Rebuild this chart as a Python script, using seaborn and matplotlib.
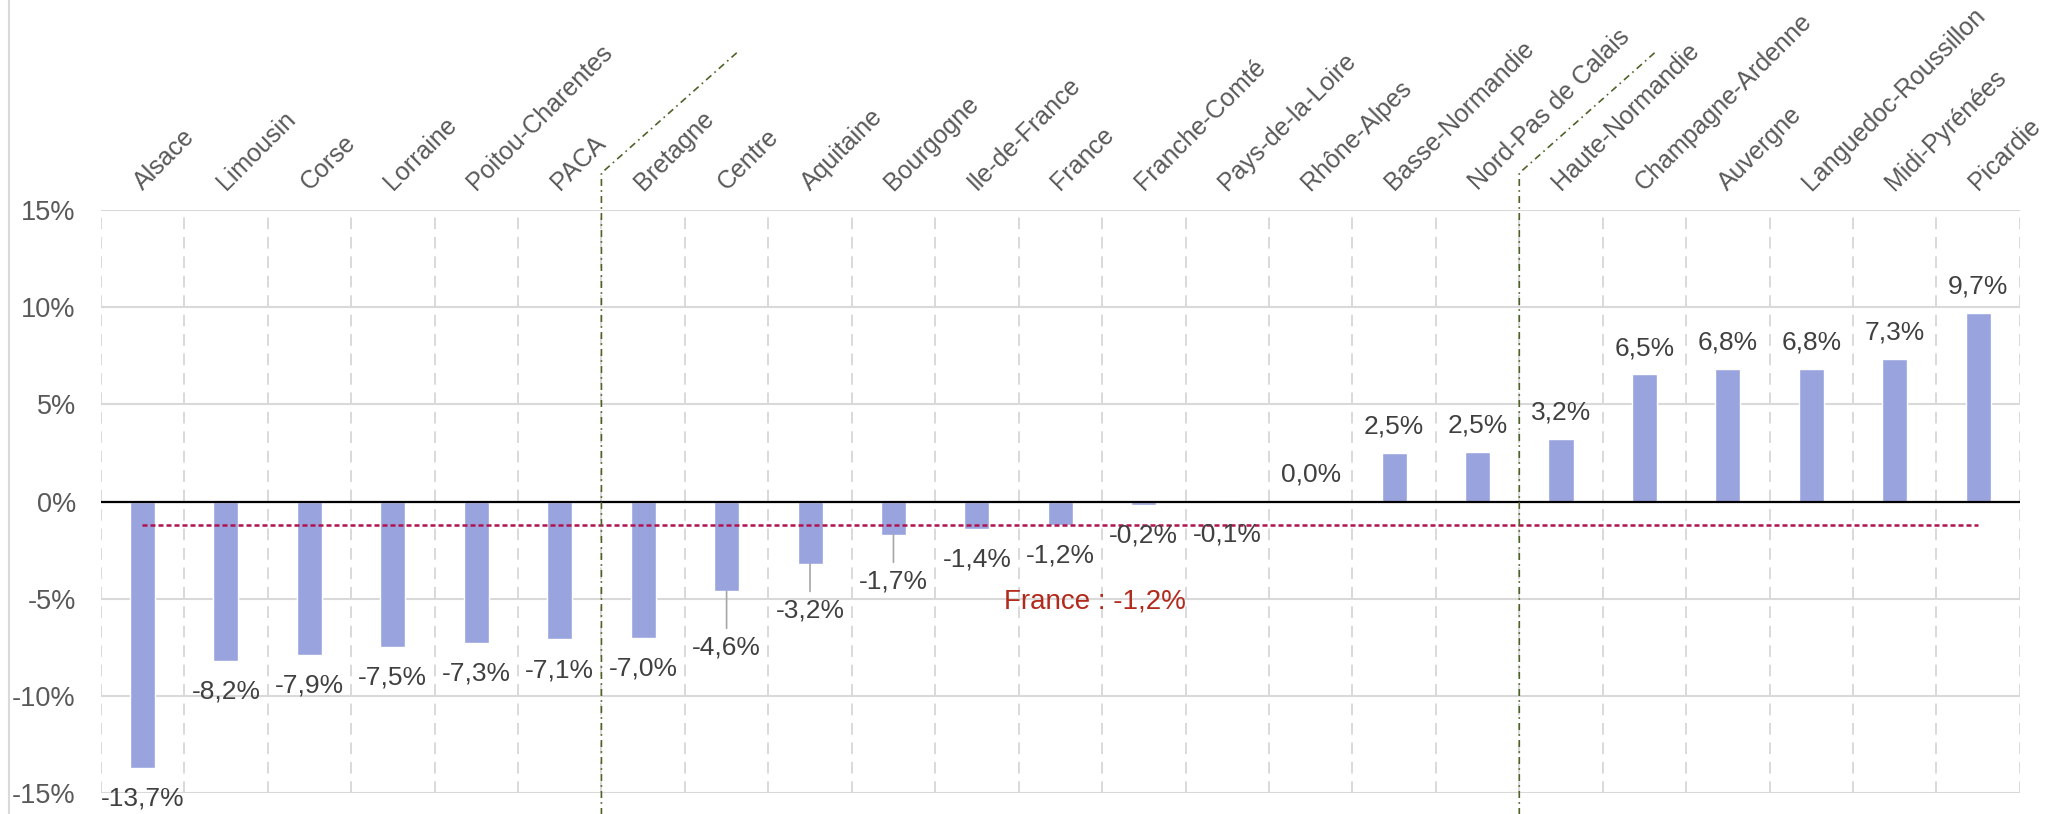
import numpy as np
import pandas as pd
import matplotlib.pyplot as plt
import seaborn as sns
from matplotlib.lines import Line2D

# evolution par région (%), triée
regions = ['Alsace', 'Limousin', 'Corse', 'Lorraine', 'Poitou-Charentes', 'PACA',
           'Bretagne', 'Centre', 'Aquitaine', 'Bourgogne', 'Ile-de-France', 'France',
           'Franche-Comté', 'Pays-de-la-Loire', 'Rhône-Alpes', 'Basse-Normandie',
           'Nord-Pas de Calais', 'Haute-Normandie', 'Champagne-Ardenne', 'Auvergne',
           'Languedoc-Roussillon', 'Midi-Pyrénées', 'Picardie']
evolution = [-13.7, -8.2, -7.9, -7.5, -7.3, -7.1,
             -7.0, -4.6, -3.2, -1.7, -1.4, -1.2,
             -0.2, -0.1, 0.04, 2.5,
             2.54, 3.2, 6.54, 6.8,
             6.8, 7.34, 9.7]
y_ticks = [-15, -10, -5, 0, 5, 10, 15]
group_ends = ['PACA', 'Nord-Pas de Calais']
# labels moved further down, with a leader line (offset in points)
leader_labels = {'Centre': 41, 'Aquitaine': 34, 'Bourgogne': 34}

sns.set_style('white')
plt.rcParams['font.family'] = ['Liberation Sans', 'DejaVu Sans']
plt.rcParams['axes.unicode_minus'] = False

df = pd.DataFrame({'region': regions, 'evolution': evolution})
n = len(regions)

fig = plt.figure(figsize=(20.48, 8.14), dpi=100)
ax = fig.add_axes([0.0492, 0.0258, 0.9371, 0.7162])

sns.barplot(data=df, x='region', y='evolution', color='#99A3DE', saturation=1,
            width=0.3, ax=ax, zorder=3)

ax.set_xlim(-0.5, n - 0.5)
ax.set_ylim(-15, 15)
ax.set_xlabel('')
ax.set_ylabel('')
for s in ax.spines.values():
    s.set_visible(False)

# grilles
ax.set_yticks(y_ticks)
ax.set_yticklabels([f'{t}%' for t in y_ticks])
ax.yaxis.grid(True, color='#D9D9D9', lw=1.5)
ax.set_xticks(np.arange(n + 1) - 0.5, minor=True)
ax.xaxis.grid(True, which='minor', color='#D9D9D9', lw=1.4, linestyle=(0, (6, 4)))
ax.xaxis.grid(False, which='major')
ax.set_axisbelow(True)

ax.tick_params(axis='y', length=0, pad=18, labelsize=19.5, labelcolor='#595959')
ax.xaxis.tick_top()
ax.tick_params(axis='x', which='both', length=0, pad=13.7)
ax.set_xticks(range(n))
ax.set_xticklabels(regions, rotation=45, ha='left', va='baseline',
                   rotation_mode='anchor', fontsize=18, color='#595959')

ax.axhline(0, color='black', lw=1.6, zorder=4)

# moyenne France
fr = evolution[regions.index('France')]
ax.plot([0, n - 1], [fr, fr], color='#B0134F', lw=1.8, ls=(0, (2, 1.2)), zorder=5)
ax.text(11.41, -5.15, f'France : {fr:.1f}%'.replace('.', ','), ha='center', va='center',
        color='#B22A1C', fontsize=20)

# étiquettes de données
for i, (reg, v) in enumerate(zip(regions, evolution)):
    txt = f'{v:.1f}%'.replace('.', ',')
    if reg in leader_labels:
        off = -leader_labels[reg]
        arrow = dict(arrowstyle='-', color='#A6A6A6', lw=1.2, shrinkA=3, shrinkB=0)
    else:
        off = -22 if v < 0 else 19
        arrow = None
    ax.annotate(txt, xy=(i, v), xytext=(0, off), textcoords='offset points',
                ha='center', va='center', fontsize=19, color='#404040',
                arrowprops=arrow, zorder=6)

# séparateurs de groupes
for name in group_ends:
    xb = regions.index(name) + 0.5
    ax.plot([xb, xb, xb + 1.65], [-16.5, 16.9, 23.2], color='#4F6228', lw=1.2,
            ls=(0, (4.2, 2.5, 1, 2.5)), clip_on=False, zorder=5)

fig.add_artist(Line2D([0.0044, 0.0044], [0, 1], transform=fig.transFigure,
                      color='#D9D9D9', lw=1.5))

fig.savefig('out.png', dpi=100)
